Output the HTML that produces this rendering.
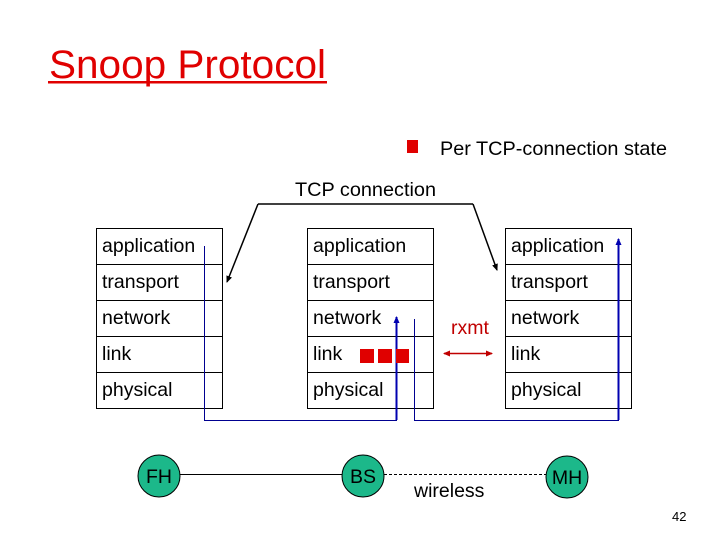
<!DOCTYPE html>
<html><head><meta charset="utf-8"><style>
html,body{margin:0;padding:0;background:#fff;}
svg{display:block;font-family:"Liberation Sans",sans-serif;}
</style></head><body>
<svg width="720" height="540" viewBox="0 0 720 540" xmlns="http://www.w3.org/2000/svg">
<defs>
<marker id="ab" markerWidth="8" markerHeight="8" refX="6" refY="4" orient="auto" markerUnits="userSpaceOnUse"><path d="M0,1 L7,4 L0,7 z" fill="#000"/></marker>
<marker id="au" markerWidth="8" markerHeight="8" refX="6" refY="4" orient="auto" markerUnits="userSpaceOnUse"><path d="M0,1 L7,4 L0,7 z" fill="#0000b0"/></marker>
<marker id="ar" markerWidth="8" markerHeight="8" refX="6" refY="4" orient="auto" markerUnits="userSpaceOnUse"><path d="M0,1 L7,4 L0,7 z" fill="#c00000"/></marker>
</defs>
<text x="49" y="78" font-size="40" fill="#e00000" textLength="277" lengthAdjust="spacingAndGlyphs">Snoop Protocol</text>
<rect x="48" y="81" width="279" height="2.5" fill="#e00000"/>
<rect x="407" y="140" width="11" height="13" fill="#e00000"/>
<text x="440" y="155" font-size="19.5" textLength="227" lengthAdjust="spacingAndGlyphs">Per TCP-connection state</text>
<text x="295" y="196" font-size="19.5" textLength="141" lengthAdjust="spacingAndGlyphs">TCP connection</text>
<line x1="258" y1="204" x2="473" y2="204" stroke="#000" stroke-width="1.5"/>
<line x1="258" y1="204" x2="227" y2="282" stroke="#000" stroke-width="1.5" marker-end="url(#ab)"/>
<line x1="473" y1="204" x2="497" y2="270" stroke="#000" stroke-width="1.5" marker-end="url(#ab)"/>
<g fill="none" stroke="#000" stroke-width="1">
<rect x="96.5" y="228.5" width="126" height="180"/>
<line x1="96" y1="264.5" x2="222" y2="264.5"/><line x1="96" y1="300.5" x2="222" y2="300.5"/><line x1="96" y1="336.5" x2="222" y2="336.5"/><line x1="96" y1="372.5" x2="222" y2="372.5"/>
<rect x="307.5" y="228.5" width="126" height="180"/>
<line x1="307" y1="264.5" x2="433" y2="264.5"/><line x1="307" y1="300.5" x2="433" y2="300.5"/><line x1="307" y1="336.5" x2="433" y2="336.5"/><line x1="307" y1="372.5" x2="433" y2="372.5"/>
<rect x="505.5" y="228.5" width="126" height="180"/>
<line x1="505" y1="264.5" x2="631" y2="264.5"/><line x1="505" y1="300.5" x2="631" y2="300.5"/><line x1="505" y1="336.5" x2="631" y2="336.5"/><line x1="505" y1="372.5" x2="631" y2="372.5"/>
</g>
<g font-size="19.5">
<text x="102" y="252">application</text><text x="102" y="288">transport</text><text x="102" y="324">network</text><text x="102" y="360">link</text><text x="102" y="396">physical</text>
<text x="313" y="252">application</text><text x="313" y="288">transport</text><text x="313" y="324">network</text><text x="313" y="360">link</text><text x="313" y="396">physical</text>
<text x="511" y="252">application</text><text x="511" y="288">transport</text><text x="511" y="324">network</text><text x="511" y="360">link</text><text x="511" y="396">physical</text>
</g>
<polyline points="204.5,246 204.5,420.5 396.5,420.5 396.5,320" fill="none" stroke="#000090" stroke-width="1"/>
<line x1="396.5" y1="420" x2="396.5" y2="317" stroke="#0000b0" stroke-width="2" marker-end="url(#au)"/>
<polyline points="414.5,319 414.5,420.5 618.5,420.5 618.5,242" fill="none" stroke="#000090" stroke-width="1"/>
<line x1="618.5" y1="420" x2="618.5" y2="239" stroke="#0000b0" stroke-width="2" marker-end="url(#au)"/>
<rect x="360" y="349" width="14" height="14" fill="#e00000"/>
<rect x="378" y="349" width="14" height="14" fill="#e00000"/>
<rect x="396" y="349" width="13" height="14" fill="#e00000"/>
<text x="451" y="334" font-size="19.5" fill="#c00000">rxmt</text>
<line x1="470" y1="353.5" x2="492" y2="353.5" stroke="#c00000" stroke-width="1.5" marker-end="url(#ar)"/>
<line x1="470" y1="353.5" x2="444" y2="353.5" stroke="#c00000" stroke-width="1.5" marker-end="url(#ar)"/>
<line x1="180" y1="474.5" x2="342" y2="474.5" stroke="#000" stroke-width="1"/>
<line x1="384" y1="474.5" x2="546" y2="474.5" stroke="#000" stroke-width="1" stroke-dasharray="3,2"/>
<g fill="#1cb88a" stroke="#000" stroke-width="1">
<circle cx="159" cy="476" r="21"/><circle cx="363" cy="476" r="21"/><circle cx="567" cy="477" r="21"/>
</g>
<g font-size="19.5" text-anchor="middle">
<text x="159" y="483">FH</text><text x="363" y="483">BS</text><text x="567" y="484">MH</text>
</g>
<text x="414" y="497" font-size="19.5">wireless</text>
<text x="672" y="521" font-size="13">42</text>
</svg>
</body></html>
